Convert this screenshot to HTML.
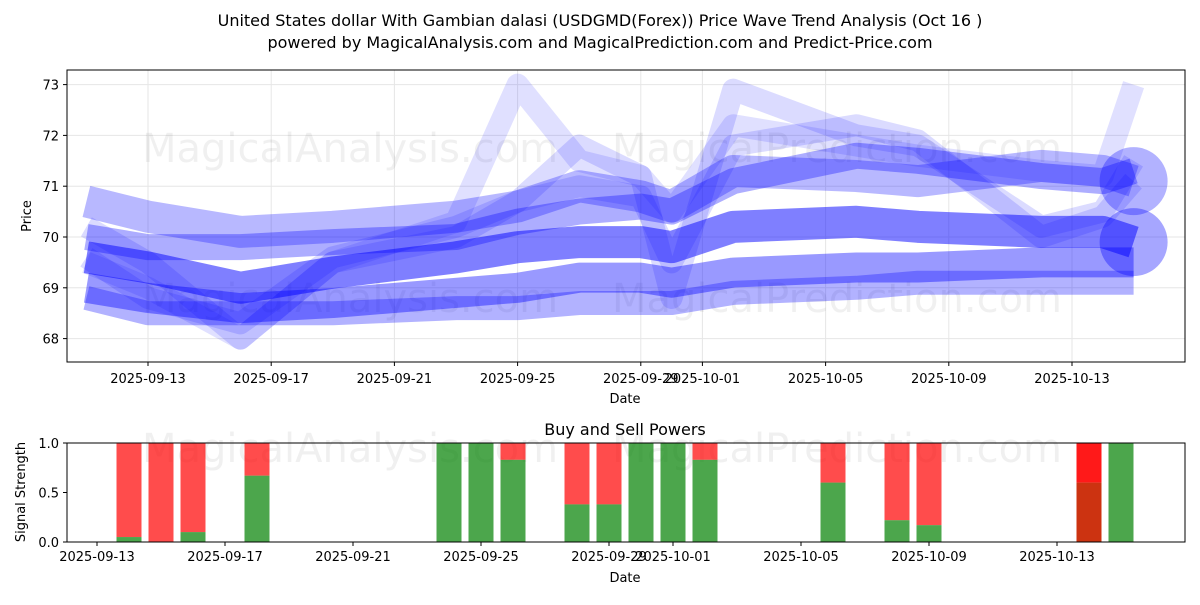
<!DOCTYPE html>
<html><head><meta charset="utf-8">
<style>
body{margin:0;background:#fff;font-family:"Liberation Sans","DejaVu Sans",sans-serif;}
svg text{font-family:"DejaVu Sans","Liberation Sans",sans-serif;}
</style></head>
<body>
<svg id="chart" width="1200" height="600" xmlns="http://www.w3.org/2000/svg">
<text x="600" y="26" text-anchor="middle" font-size="16">United States dollar With Gambian dalasi (USDGMD(Forex)) Price Wave Trend Analysis (Oct 16 )</text>
<text x="600" y="48" text-anchor="middle" font-size="16">powered by MagicalAnalysis.com and MagicalPrediction.com and Predict-Price.com</text>
<g id="topPanel"></g>
<g id="botPanel"></g>
</svg>
<script>
// ---- data ----
const keyDays = [-2,0,3,6,10,12,14,16,17,19,23,25,29,31,32]; // days from 2025-09-13
const waveA = [70.7,70.4,70.1,70.2,70.4,70.6,71.0,70.8,70.6,71.3,71.2,71.1,71.4,71.3,71.1];
const waveB = [70.0,69.8,69.8,69.9,70.0,70.3,70.5,70.6,70.5,71.1,71.6,71.5,71.2,71.1,71.3];
const waveC = [69.6,69.4,69.0,69.3,69.6,69.8,69.9,69.9,69.8,70.2,70.3,70.2,70.1,70.1,69.9];
const waveD = [69.0,68.8,68.6,68.7,68.9,69.0,69.2,69.2,69.1,69.3,69.4,69.4,69.5,69.5,69.5];
const waveE = [68.8,68.5,68.5,68.5,68.6,68.6,68.7,68.7,68.7,68.9,69.0,69.1,69.1,69.1,69.1];
const waveF = [69.5,69.0,68.0,69.5,70.3,73.0,71.5,71.2,70.5,72.2,71.8,71.6,71.3,71.2,73.0];
const waveG = [69.6,68.8,68.3,69.6,70.2,70.7,71.8,71.2,68.8,72.9,72.0,71.8,70.2,70.5,71.5];
const waveH = [70.2,69.5,68.0,69.5,70.0,70.7,71.0,70.8,69.5,71.8,72.2,71.9,70.0,70.4,71.1];
const priceTicks = [68,69,70,71,72,73];
const dateTickDays = [0,4,8,12,16,18,22,26,30];
const dateTickLabels = ["2025-09-13","2025-09-17","2025-09-21","2025-09-25","2025-09-29","2025-10-01","2025-10-05","2025-10-09","2025-10-13"];
const barDays = [1,2,3,5,11,12,13,15,16,17,18,19,23,25,26,31,32];
const buyPower = [0.05,0,0.1,0.67,1,1,0.83,0.38,0.38,1,1,0.83,0.6,0.22,0.17,0.6,1];
const strengthTicks = [0,0.5,1];

const NS="http://www.w3.org/2000/svg";
function mk(p,tag,a){const e=document.createElementNS(NS,tag);for(const k in a)e.setAttribute(k,a[k]);p.appendChild(e);return e;}
const topG=document.getElementById('topPanel'), botG=document.getElementById('botPanel');
const L=67,R=1185,T=70,B=362;
const xT=d=>148+d*30.8, yT=v=>237-(v-70)*50.8;
const BT=443,BB=542;
const xB=d=>97+d*32, yB=v=>BB-v*(BB-BT);

priceTicks.forEach(v=>{
 const g=mk(topG,'line',{x1:L,x2:R,y1:yT(v),y2:yT(v),stroke:'#e6e6e6'});
 
 
 mk(topG,'line',{x1:L-4,x2:L,y1:yT(v),y2:yT(v),stroke:'#000'});
 const t=mk(topG,'text',{x:L-8,y:yT(v)+5,'text-anchor':'end','font-size':13});t.textContent=v;
 
 
});
dateTickDays.forEach((d,i)=>{
 mk(topG,'line',{x1:xT(d),x2:xT(d),y1:T,y2:B,stroke:'#e6e6e6'});
 mk(topG,'line',{x1:xT(d),x2:xT(d),y1:B,y2:B+4,stroke:'#000'});
 const t=mk(topG,'text',{x:xT(d),y:B+21,'text-anchor':'middle','font-size':13});t.textContent=dateTickLabels[i];
 
 
});
[[350,162],[837,162],[350,312],[837,312]].forEach((p,i)=>{
 const t=mk(topG,'text',{x:p[0],y:p[1],'text-anchor':'middle','font-size':40,fill:'#000','fill-opacity':0.06});
 t.textContent=i%2?'MagicalPrediction.com':'MagicalAnalysis.com';
 
 
});
const waves=[[waveF,22,0.12],[waveG,22,0.14],[waveH,22,0.14],[waveA,32,0.28],[waveB,26,0.32],[waveE,24,0.3],[waveD,30,0.4],[waveC,32,0.5]];
waves.forEach(w=>{
 const pts=keyDays.map((d,i)=>xT(d)+','+yT(w[0][i])).join(' ');
 const p=mk(topG,'polyline',{points:pts,fill:'none',stroke:'#0000ff','stroke-opacity':w[2],'stroke-width':w[1],'stroke-linejoin':'round'});
 
 
});
[[waveA,0.3],[waveC,0.35]].forEach(c=>{
 const e=mk(topG,'circle',{cx:xT(keyDays[keyDays.length-1]),cy:yT(c[0][c[0].length-1]),r:34,fill:'#0000ff','fill-opacity':c[1]});
 
 
});
mk(topG,'rect',{x:L,y:T,width:R-L,height:B-T,fill:'none',stroke:'#000'});
let t=mk(topG,'text',{x:625,y:403,'text-anchor':'middle','font-size':13});t.textContent='Date';


t=mk(topG,'text',{x:31,y:216,'text-anchor':'middle','font-size':13,transform:'rotate(-90 31 216)'});t.textContent='Price';



t=mk(botG,'text',{x:625,y:435,'text-anchor':'middle','font-size':16});t.textContent='Buy and Sell Powers';


[[350,462],[837,462]].forEach((p,i)=>{
 const w=mk(botG,'text',{x:p[0],y:p[1],'text-anchor':'middle','font-size':40,fill:'#000','fill-opacity':0.06});
 w.textContent=i?'MagicalPrediction.com':'MagicalAnalysis.com';
 
 
});
barDays.forEach((d,i)=>{
 const dark=(d===31);
 const b=buyPower[i];
 const r=mk(botG,'rect',{x:xB(d)-12.5,y:BT,width:25,height:yB(b)-BT,fill:'#ff0000','fill-opacity':dark?0.9:0.7});
 
 
 const g=mk(botG,'rect',{x:xB(d)-12.5,y:yB(b),width:25,height:BB-yB(b),fill:dark?'#cc3311':'#008000','fill-opacity':dark?1:0.7});
 
 
});
strengthTicks.forEach(v=>{
 mk(botG,'line',{x1:L-4,x2:L,y1:yB(v),y2:yB(v),stroke:'#000'});
 const s=mk(botG,'text',{x:L-8,y:yB(v)+5,'text-anchor':'end','font-size':13});s.textContent=v.toFixed(1);
 
 
});
dateTickDays.forEach((d,i)=>{
 mk(botG,'line',{x1:xB(d),x2:xB(d),y1:BB,y2:BB+4,stroke:'#000'});
 const s=mk(botG,'text',{x:xB(d),y:BB+19,'text-anchor':'middle','font-size':13});s.textContent=dateTickLabels[i];
 
 
});
mk(botG,'rect',{x:L,y:BT,width:R-L,height:BB-BT,fill:'none',stroke:'#000'});
t=mk(botG,'text',{x:625,y:582,'text-anchor':'middle','font-size':13});t.textContent='Date';


t=mk(botG,'text',{x:25,y:492,'text-anchor':'middle','font-size':13,transform:'rotate(-90 25 492)'});t.textContent='Signal Strength';


</script>
</body></html>
